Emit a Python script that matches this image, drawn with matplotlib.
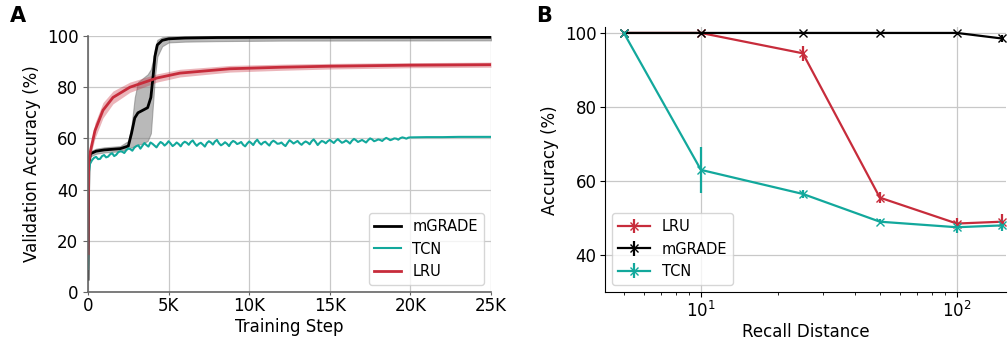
import matplotlib
matplotlib.use("Agg")
import matplotlib.pyplot as plt
from matplotlib.ticker import FuncFormatter

# ---- panel A: validation accuracy vs training step ----
mgrade_steps = [0, 20, 60, 150, 500, 1000, 2000, 2500, 2700, 2900, 3100, 3400, 3700, 3900,
                4050, 4150, 4300, 4600, 5000, 6000, 8000, 12000, 25000]
mgrade_acc = [5, 30, 50, 54, 55, 55.5, 56, 57, 62, 68, 70, 71, 72, 76,
              85, 92, 96.5, 98.3, 98.9, 99.2, 99.4, 99.5, 99.5]
mgrade_lo = [5, 30, 49, 53, 54, 54.5, 55, 56, 56.5, 57, 57.5, 58, 59, 62,
             75, 84, 92, 96, 97.5, 97.8, 98, 98.2, 98.3]
mgrade_hi = [5, 30, 51, 55, 56, 56.5, 57, 59, 65, 76, 82, 83.5, 85, 87,
             91, 95, 98.5, 99.5, 99.8, 99.9, 100, 100, 100]

# TCN: early rise, then values read every 125 steps up to 20K, then the flat tail
tcn_steps = [0, 30, 60, 120] + list(range(250, 20001, 125)) + [21000, 22000, 23000, 24000, 25000]
tcn_acc = [9, 35, 47, 50,
           51.5, 52.4, 52.8, 51.9, 52.0, 53.1, 53.5, 52.6, 52.9, 53.8, 54.2, 53.1, 53.6, 54.6, 55.0, 54.8,
           54.3, 55.4, 56.1, 55.8, 55.2, 56.4, 57.0, 57.3, 56.0, 57.1, 58.2, 57.4, 56.8, 58.4, 57.9, 57.2,
           56.5, 57.7, 58.6, 58.1, 57.2, 57.9, 58.9, 58.0, 57.0, 57.6, 58.4, 57.8, 56.9, 58.1, 58.7, 58.3,
           57.5, 58.6, 59.2, 58.0, 57.1, 57.9, 58.3, 57.6, 56.8, 58.2, 58.9, 58.4, 57.6, 58.8, 59.4, 58.1,
           57.3, 57.8, 58.5, 57.9, 57.0, 58.3, 59.0, 58.6, 57.8, 58.1, 58.6, 57.5, 56.9, 58.0, 58.8, 58.2,
           57.4, 58.7, 59.5, 58.3, 57.6, 58.4, 58.7, 57.9, 57.2, 58.5, 59.1, 58.6, 57.9, 58.0, 58.4, 57.6,
           57.0, 58.2, 59.3, 58.7, 58.0, 58.5, 59.0, 58.1, 57.5, 58.3, 58.8, 58.4, 57.7, 58.9, 59.6, 58.6,
           57.4, 58.3, 59.0, 58.7, 58.1, 58.9, 59.4, 58.8, 58.2, 59.1, 59.7, 59.0, 58.3, 58.6, 59.2, 58.7,
           58.0, 59.1, 59.8, 59.3, 58.6, 59.0, 59.4, 58.9, 58.4, 59.3, 60.0, 59.6, 58.9, 59.2, 59.6, 59.4,
           59.0, 59.7, 60.2, 59.8, 59.3, 59.6, 60.0, 59.9, 59.5, 60.1, 60.4, 60.2, 59.9, 60.3,
           60.4,
           60.5, 60.5, 60.6, 60.6, 60.6]

lru_steps = [0, 40, 150, 430, 930, 1550, 2600, 4280, 5700, 8800, 12000, 15000, 20000, 25000]
lru_acc = [15, 50, 55, 63, 71, 76, 80, 83.6, 85.5, 87.2, 87.8, 88.2, 88.6, 88.8]
lru_err = [0, 1, 2, 3, 3, 2.5, 2, 1.6, 1.5, 1.3, 1.2, 1.1, 1.0, 1.0]

# ---- panel B: accuracy vs recall distance ----
distances = [5, 10, 25, 50, 100, 150]
lru_rec = [100, 100, 94.5, 55.5, 48.5, 49]
lru_rec_err = [0, 0, 2, 1.5, 1.5, 2]
mgrade_rec = [100, 100, 100, 100, 100, 98.5]
mgrade_rec_err = [0, 0, 0, 0, 0, 1]
tcn_rec = [100, 63, 56.5, 49, 47.5, 48]
tcn_rec_err = [0, 6.3, 1, 0.6, 1.5, 1.5]

BLACK = "black"
TEAL = "#12a89c"
RED = "#c72c3b"

plt.rcParams["font.size"] = 12

fig = plt.figure(figsize=(10.08, 3.39), dpi=100)
ax1 = fig.add_axes([0.0873, 0.1386, 0.3998, 0.7552])
ax2 = fig.add_axes([0.6002, 0.1386, 0.3978, 0.7806])

# panel A
ax1.fill_between(mgrade_steps, mgrade_lo, mgrade_hi, color="gray", alpha=0.55, lw=0.8,
                 edgecolor="#777777")
ax1.plot(mgrade_steps, mgrade_acc, color=BLACK, lw=2, label="mGRADE")
ax1.plot(tcn_steps, tcn_acc, color=TEAL, lw=1.5, label="TCN")
lo = [a - e for a, e in zip(lru_acc, lru_err)]
hi = [a + e for a, e in zip(lru_acc, lru_err)]
ax1.fill_between(lru_steps, lo, hi, color=RED, alpha=0.35, lw=0)
ax1.plot(lru_steps, lru_acc, color=RED, lw=2, label="LRU")

ax1.set_xlim(0, 25000)
ax1.set_ylim(0, 100)
ax1.set_xticks([0, 5000, 10000, 15000, 20000, 25000])
ax1.xaxis.set_major_formatter(FuncFormatter(lambda v, p: "0" if v == 0 else f"{int(v / 1000)}K"))
ax1.set_yticks([0, 20, 40, 60, 80, 100])
ax1.tick_params(axis="x", length=2, pad=1.5, color="#666666")
ax1.tick_params(axis="y", length=3.5, pad=3.5, color="#666666")
ax1.grid(True, color="#c8c8c8", lw=0.9)
ax1.set_axisbelow(True)
ax1.set_xlabel("Training Step", labelpad=2)
ax1.set_ylabel("Validation Accuracy (%)")
for s in ["top", "right"]:
    ax1.spines[s].set_visible(False)
for s in ["left", "bottom"]:
    ax1.spines[s].set_color("#666666")
    ax1.spines[s].set_linewidth(1.2)
ax1.legend(loc="lower right", fontsize=10.5, handlelength=1.8)

# panel B
ax2.errorbar(distances, lru_rec, yerr=lru_rec_err, color=RED, marker="x", ms=6, lw=1.6,
             elinewidth=1.6, label="LRU")
ax2.errorbar(distances, mgrade_rec, yerr=mgrade_rec_err, color=BLACK, marker="x", ms=6, lw=1.6,
             elinewidth=1.6, label="mGRADE")
ax2.errorbar(distances, tcn_rec, yerr=tcn_rec_err, color=TEAL, marker="x", ms=6, lw=1.6,
             elinewidth=1.6, label="TCN")
ax2.set_xscale("log")
ax2.set_xlim(4.22, 155.5)
ax2.set_ylim(30, 101.5)
ax2.set_yticks([40, 60, 80, 100])
ax2.tick_params(axis="x", which="major", length=3.5, pad=3)
ax2.tick_params(axis="x", which="minor", length=2)
ax2.tick_params(axis="y", length=3.5, pad=2.5)
ax2.grid(True, color="#c8c8c8", lw=0.9)
ax2.set_axisbelow(True)
ax2.set_xlabel("Recall Distance", labelpad=1)
ax2.set_ylabel("Accuracy (%)")
for s in ["top", "right"]:
    ax2.spines[s].set_visible(False)
ax2.legend(loc="lower left", fontsize=10.5, handlelength=2.2)

fig.text(0.010, 0.935, "A", fontsize=15, fontweight="bold")
fig.text(0.532, 0.935, "B", fontsize=15, fontweight="bold")

fig.savefig("out.png", dpi=100)
